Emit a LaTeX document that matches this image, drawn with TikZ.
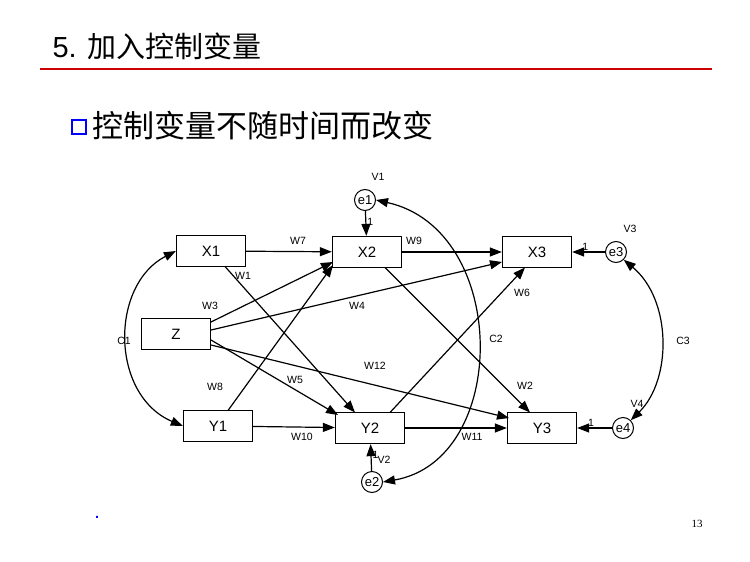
\documentclass[tikz,border=0pt]{standalone}
\usepackage{fontspec}
\setmainfont{Liberation Sans}
\newfontfamily\cjk{Noto Sans CJK SC}
\newfontfamily\serifnum{Liberation Serif}
\usetikzlibrary{arrows.meta,calc}
\begin{document}
\begin{tikzpicture}[x=1pt,y=-1pt,
  box/.style={draw,line width=1.3pt,minimum width=69pt,minimum height=31pt,inner sep=0pt,font=\fontsize{15}{15}\selectfont},
  err/.style={draw,circle,line width=1pt,minimum size=21pt,inner sep=0pt,font=\fontsize{13}{13}\selectfont},
  lab/.style={font=\fontsize{10.5}{11}\selectfont,inner sep=1pt},
  arr/.style={-{Triangle[length=12pt,width=9pt]},line width=1.2pt},
  dbl/.style={{Triangle[length=12pt,width=9pt]}-{Triangle[length=12pt,width=9pt]},line width=1.2pt}]
\useasboundingbox (0,0) rectangle (750,562);
\node[anchor=west,font=\fontsize{29}{29}\selectfont] (title) at (49,46) {5. {\cjk 加入控制变量}};
\draw[red!80!black,line width=1.4pt] (40,69) -- (712,69);
\node[draw=blue,line width=2.4pt,minimum size=14pt,inner sep=0pt] (bul) at (79,127) {};
\node[anchor=west,font=\fontsize{31}{31}\selectfont\cjk] (sub) at (89,126) {控制变量不随时间而改变};
\node[box] (X1) at (211,251) {X1};
\node[box] (X2) at (367,252) {X2};
\node[box] (X3) at (537,252) {X3};
\node[box] (Z) at (176,334) {Z};
\node[box] (Y1) at (218,426) {Y1};
\node[box] (Y2) at (370,428) {Y2};
\node[box] (Y3) at (542,428) {Y3};
\node[err] (e1) at (365,200) {e1};
\node[err] (e2) at (372,482) {e2};
\node[err] (e3) at (616,252) {e3};
\node[err] (e4) at (623,428) {e4};
\node[lab] (v1) at (378,177) {V1};
\node[lab] (v2) at (384,460) {V2};
\node[lab] (v3) at (630,229) {V3};
\node[lab] (v4) at (637,404) {V4};
% connector end points
\coordinate (x1b) at (225,266.5);
\coordinate (y2t1) at (355,412.5);
\coordinate (za) at (211,322);
\coordinate (zb) at (211,330);
\coordinate (zc) at (211,340);
\coordinate (zd) at (211,345);
\coordinate (x2a) at (333,262);
\coordinate (x2b) at (333,265);
\coordinate (x3a) at (502,262);
\coordinate (y2a) at (338,415);
\coordinate (y3a) at (509,418);
\coordinate (y1t) at (228,410.5);
\coordinate (y2t2) at (390,412.5);
\coordinate (x3b) at (525,267.5);
\coordinate (x2c) at (385,267.5);
\coordinate (y3t) at (530,412.5);
\draw[arr] (e1) -- (X2) node[lab,pos=0.45,right] {1};
\draw[arr] (e2) -- (Y2) node[lab,pos=0.6,right] {1};
\draw[arr] (e3) -- (X3) node[lab,pos=0.6,above] {1};
\draw[arr] (e4) -- (Y3) node[lab,pos=0.6,above] {1};
\draw[arr] (X1) -- (X2);
\draw[arr] (X2) -- (X3);
\draw[arr] (Y1) -- (Y2);
\draw[arr] (Y2) -- (Y3);
\draw[arr] (x1b) -- (y2t1);
\draw[arr] (za) -- (x2a);
\draw[arr] (zb) -- (x3a);
\draw[arr] (zc) -- (y2a);
\draw[arr] (zd) -- (y3a);
\draw[arr] (y1t) -- (x2b);
\draw[arr] (y2t2) -- (x3b);
\draw[arr] (x2c) -- (y3t);
\node[lab] (lw7) at (298,241) {W7};
\node[lab] (lw9) at (414,241) {W9};
\node[lab] (lw1) at (243,276) {W1};
\node[lab] (lw3) at (210,306) {W3};
\node[lab] (lw4) at (357,306) {W4};
\node[lab] (lw5) at (295,380) {W5};
\node[lab] (lw12) at (375,366) {W12};
\node[lab] (lw8) at (215,387) {W8};
\node[lab] (lw10) at (302,437) {W10};
\node[lab] (lw6) at (522,293) {W6};
\node[lab] (lw2) at (525,386) {W2};
\node[lab] (lw11) at (472,437) {W11};
\draw[dbl] (X1.west) .. controls (110,285) and (110,395) .. (Y1.west);
\draw[dbl] (e1.east) .. controls (510,230) and (510,460) .. (e2.east);
\draw[dbl] (e3.south east) .. controls (672,300) and (672,380) .. (e4.north east);
\node[lab] (c1) at (124,341) {C1};
\node[lab] (c2) at (496,339) {C2};
\node[lab] (c3) at (683,341) {C3};
\node[blue,font=\Large\bfseries] (dot) at (97,517) {.};
\node[font=\fontsize{11}{11}\selectfont\serifnum] (pg) at (697,524) {13};
\end{tikzpicture}
\end{document}
